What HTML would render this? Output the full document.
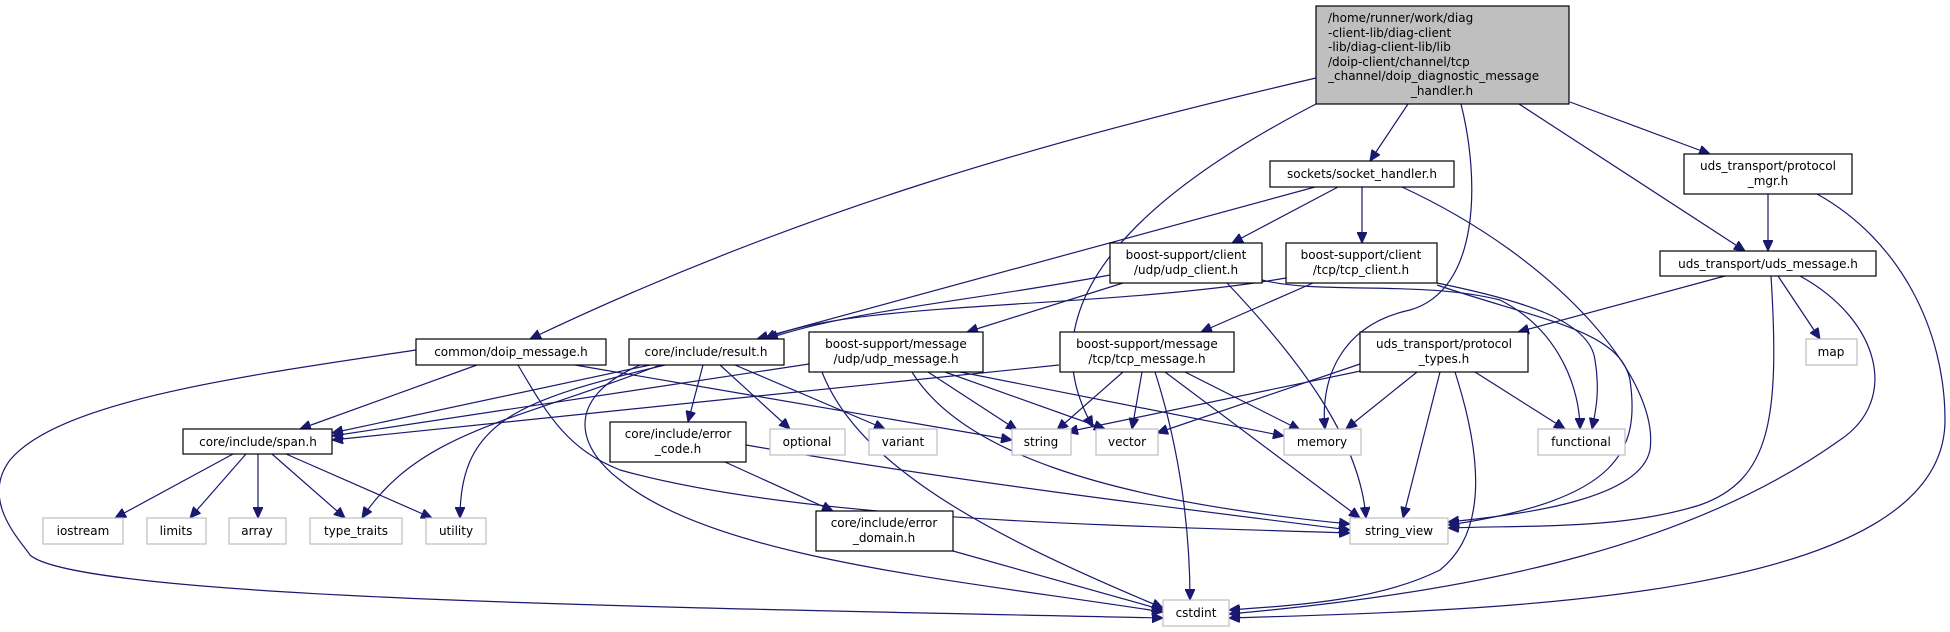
<!DOCTYPE html>
<html><head><meta charset="utf-8"><style>
html,body{margin:0;padding:0;background:#fff;}
svg{display:block;}
text{font-family:"DejaVu Sans","Liberation Sans",sans-serif;font-size:12px;fill:#000;}
.e{fill:none;stroke:#191970;stroke-width:1.2;}
.n{fill:#fff;stroke:#000;stroke-width:1.2;}
.g{fill:#fff;stroke:#bfbfbf;stroke-width:1.2;}
</style></head><body>
<svg width="1950" height="632" viewBox="0 0 1950 632" xmlns="http://www.w3.org/2000/svg">
<defs><marker id="a" markerUnits="userSpaceOnUse" markerWidth="12" markerHeight="10" refX="11" refY="5" orient="auto"><path d="M0,0 L11,5 L0,10 z" fill="#191970" stroke="#191970"/></marker></defs>
<g marker-end="url(#a)">
<!-- main -->
<path class="e" d="M1316,78 C1050,140 800,210 530,339"/>
<path class="e" d="M1316,104 C1150,190 1020,300 1093,427"/>
<path class="e" d="M1408,104 L1370,161"/>
<path class="e" d="M1461,104 C1480,180 1480,290 1410,310 C1340,325 1320,380 1325,429"/>
<path class="e" d="M1519,104 L1745,251"/>
<path class="e" d="M1570,102 L1710,154"/>
<!-- socket handler -->
<path class="e" d="M1315,187 L757,339"/>
<path class="e" d="M1338,187 L1232,243"/>
<path class="e" d="M1362,187 L1362,243"/>
<path class="e" d="M1402,187 C1560,260 1660,380 1650,450 C1640,500 1520,515 1448,522"/>
<!-- udp client -->
<path class="e" d="M1110,275 C980,300 850,310 767,339"/>
<path class="e" d="M1123,283 L967,332"/>
<path class="e" d="M1227,283 C1300,360 1360,440 1366,518"/>
<path class="e" d="M1262,280 C1320,295 1420,280 1500,300 C1560,330 1580,390 1580,429"/>
<!-- tcp client -->
<path class="e" d="M1286,278 C1100,310 850,300 765,339"/>
<path class="e" d="M1313,283 L1201,332"/>
<path class="e" d="M1437,283 C1520,300 1590,320 1595,360 C1600,390 1596,410 1592,429"/>
<path class="e" d="M1437,285 C1540,320 1620,330 1630,380 C1640,450 1620,500 1448,525"/>
<!-- protocol mgr -->
<path class="e" d="M1768,194 L1768,251"/>
<path class="e" d="M1817,194 C1900,240 1945,330 1945,420 C1945,600 1500,610 1229,618"/>
<!-- uds message -->
<path class="e" d="M1725,276 L1518,332"/>
<path class="e" d="M1778,276 L1820,339"/>
<path class="e" d="M1771,276 C1780,420 1770,480 1700,505 C1620,530 1530,525 1448,528"/>
<path class="e" d="M1800,276 C1880,320 1900,400 1840,440 C1700,540 1500,590 1229,614"/>
<!-- protocol types -->
<path class="e" d="M1360,364 L1157,433"/>
<path class="e" d="M1375,368 L1067,432"/>
<path class="e" d="M1417,372 L1346,429"/>
<path class="e" d="M1440,372 L1403,518"/>
<path class="e" d="M1455,372 C1480,450 1490,530 1440,570 C1380,600 1300,605 1229,610"/>
<path class="e" d="M1475,372 L1565,429"/>
<!-- tcp message -->
<path class="e" d="M1059,365 L332,440"/>
<path class="e" d="M1123,372 L1057,430"/>
<path class="e" d="M1142,372 L1132,429"/>
<path class="e" d="M1185,372 L1300,430"/>
<path class="e" d="M1165,372 L1360,518"/>
<path class="e" d="M1155,372 C1180,450 1190,530 1190,600"/>
<!-- udp message -->
<path class="e" d="M809,364 L332,436"/>
<path class="e" d="M822,372 C860,470 1000,540 1163,608"/>
<path class="e" d="M928,372 L1017,430"/>
<path class="e" d="M945,372 L1105,429"/>
<path class="e" d="M960,372 L1284,436"/>
<path class="e" d="M912,372 C960,450 1100,500 1350,524"/>
<!-- result -->
<path class="e" d="M650,365 L332,433"/>
<path class="e" d="M660,365 C520,420 420,430 362,518"/>
<path class="e" d="M665,365 C520,400 460,420 460,518"/>
<path class="e" d="M703,365 L688,422"/>
<path class="e" d="M720,365 L790,429"/>
<path class="e" d="M735,365 L885,429"/>
<path class="e" d="M640,365 C560,400 580,450 620,480 C720,560 960,580 1163,612"/>
<!-- doip message -->
<path class="e" d="M477,365 L300,429"/>
<path class="e" d="M575,365 L1012,440"/>
<path class="e" d="M518,365 C550,420 570,450 620,470 C800,520 1100,525 1350,533"/>
<path class="e" d="M416,350 C250,375 60,400 10,460 C-20,500 20,540 30,555 C80,600 700,608 1163,618"/>
<!-- span -->
<path class="e" d="M233,454 L115,518"/>
<path class="e" d="M246,454 L190,518"/>
<path class="e" d="M258,454 L258,518"/>
<path class="e" d="M272,454 L345,518"/>
<path class="e" d="M286,454 L432,518"/>
<!-- error code / domain -->
<path class="e" d="M746,445 C950,480 1150,505 1350,530"/>
<path class="e" d="M725,462 L833,511"/>
<path class="e" d="M953,551 L1163,610"/>
</g>
<!-- nodes -->
<rect x="1316" y="6" width="253" height="98" fill="#bfbfbf" stroke="#000" stroke-width="1.2"/>
<text x="1328" y="22">/home/runner/work/diag</text>
<text x="1328" y="37">-client-lib/diag-client</text>
<text x="1328" y="51">-lib/diag-client-lib/lib</text>
<text x="1328" y="66">/doip-client/channel/tcp</text>
<text x="1328" y="80">_channel/doip_diagnostic_message</text>
<text x="1442" y="95" text-anchor="middle">_handler.h</text>

<g text-anchor="middle">
<rect class="n" x="1270" y="161" width="184" height="26"/><text x="1362" y="178">sockets/socket_handler.h</text>
<rect class="n" x="1684" y="154" width="168" height="40"/><text x="1768" y="170">uds_transport/protocol</text><text x="1768" y="185">_mgr.h</text>
<rect class="n" x="1110" y="243" width="152" height="40"/><text x="1186" y="259">boost-support/client</text><text x="1186" y="274">/udp/udp_client.h</text>
<rect class="n" x="1286" y="243" width="151" height="40"/><text x="1361" y="259">boost-support/client</text><text x="1361" y="274">/tcp/tcp_client.h</text>
<rect class="n" x="1660" y="251" width="216" height="25"/><text x="1768" y="268">uds_transport/uds_message.h</text>
<rect class="n" x="416" y="339" width="190" height="26"/><text x="511" y="356">common/doip_message.h</text>
<rect class="n" x="629" y="339" width="155" height="26"/><text x="706" y="356">core/include/result.h</text>
<rect class="n" x="809" y="332" width="174" height="40"/><text x="896" y="348">boost-support/message</text><text x="896" y="363">/udp/udp_message.h</text>
<rect class="n" x="1060" y="332" width="174" height="40"/><text x="1147" y="348">boost-support/message</text><text x="1147" y="363">/tcp/tcp_message.h</text>
<rect class="n" x="1360" y="332" width="168" height="40"/><text x="1444" y="348">uds_transport/protocol</text><text x="1444" y="363">_types.h</text>
<rect class="g" x="1806" y="339" width="51" height="26"/><text x="1831" y="356">map</text>
<rect class="n" x="183" y="429" width="149" height="25"/><text x="258" y="446">core/include/span.h</text>
<rect class="n" x="610" y="422" width="136" height="40"/><text x="678" y="438">core/include/error</text><text x="678" y="453">_code.h</text>
<rect class="g" x="770" y="429" width="75" height="26"/><text x="807" y="446">optional</text>
<rect class="g" x="869" y="429" width="68" height="26"/><text x="903" y="446">variant</text>
<rect class="g" x="1012" y="429" width="59" height="26"/><text x="1041" y="446">string</text>
<rect class="g" x="1096" y="429" width="62" height="26"/><text x="1127" y="446">vector</text>
<rect class="g" x="1284" y="429" width="77" height="26"/><text x="1322" y="446">memory</text>
<rect class="g" x="1538" y="429" width="87" height="26"/><text x="1581" y="446">functional</text>
<rect class="g" x="43" y="518" width="80" height="26"/><text x="83" y="535">iostream</text>
<rect class="g" x="147" y="518" width="59" height="26"/><text x="176" y="535">limits</text>
<rect class="g" x="229" y="518" width="57" height="26"/><text x="257" y="535">array</text>
<rect class="g" x="310" y="518" width="92" height="26"/><text x="356" y="535">type_traits</text>
<rect class="g" x="426" y="518" width="60" height="26"/><text x="456" y="535">utility</text>
<rect class="g" x="1350" y="518" width="98" height="26"/><text x="1399" y="535">string_view</text>
<rect class="n" x="816" y="511" width="137" height="40"/><text x="884" y="527">core/include/error</text><text x="884" y="542">_domain.h</text>
<rect class="g" x="1163" y="600" width="66" height="26"/><text x="1196" y="617">cstdint</text>
</g>
</svg>
</body></html>
